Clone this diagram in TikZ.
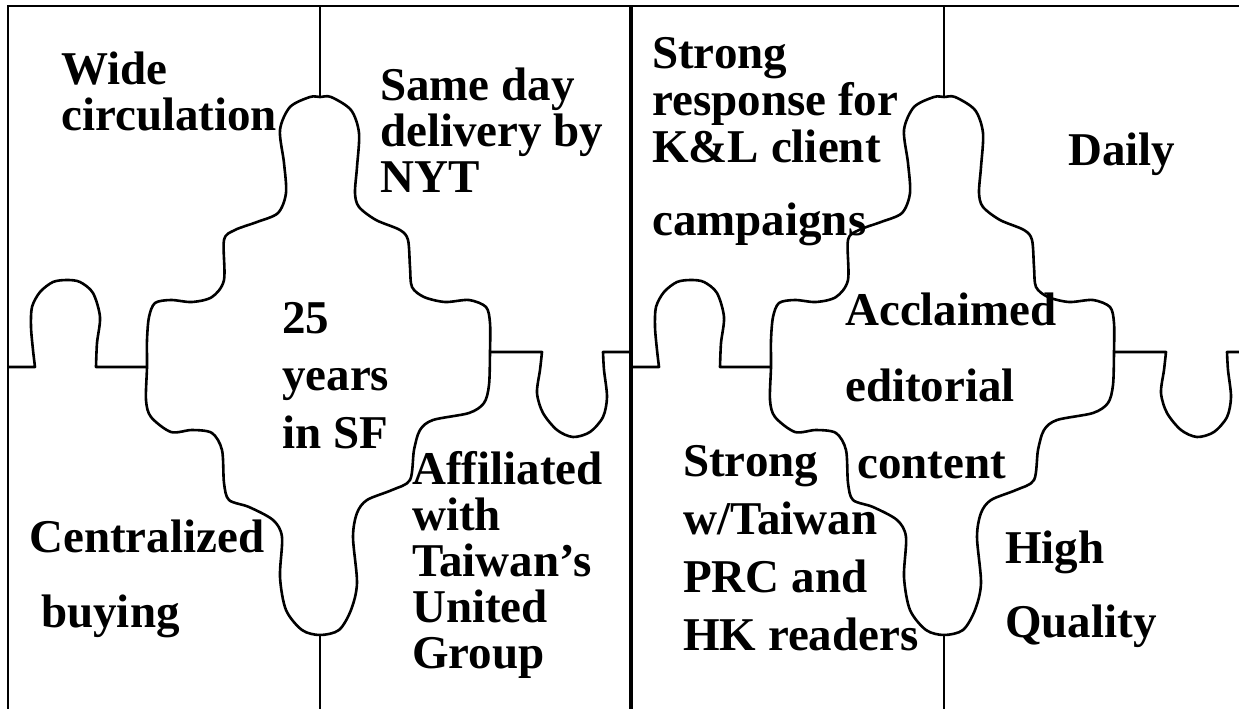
\documentclass[tikz,border=0pt]{standalone}
\usepackage{fontspec}
\setmainfont{Liberation Serif}
\usetikzlibrary{positioning}
\tikzset{
panelline/.style={line width=2pt},
cutline/.style={line width=2.6pt, line join=round},
word/.style={anchor=base west, inner sep=0pt, align=left,
  font=\bfseries\fontsize{47pt}{#1pt}\selectfont}
}

\begin{document}
\begin{tikzpicture}[x=1pt,y=-1pt]
\useasboundingbox (0,0) rectangle (1239,709);
\clip (0,0) rectangle (1239,709);

\foreach \dx in {0,624}{
\begin{scope}[xshift=\dx]
% frame of one puzzle
\draw[panelline] (8,720) -- (8,6) -- (629.5,6) -- (629.5,720);
\coordinate (topjoin) at (320,97);
\coordinate (botjoin) at (320,635);
\coordinate (leftjoin) at (147,367);
\coordinate (rightjoin) at (490,352);

% centre piece
\draw[cutline] plot[smooth cycle] coordinates {
  (320,97) (331,97) (351,110) (359,133) (357,167) (355,193) (359,207)
  (376,220) (400,230) (408,240) (410,267) (412,287) (424,297) (445,302)
  (469,300) (486,307) (490,323) (490,352) (489,385) (484,403) (469,413)
  (433,420) (420,430) (414,450) (410,480) (392,490) (367,500) (357,513)
  (353,537) (357,583) (351,610) (339,630) (320,635) (302,630) (286,610)
  (280,577) (282,537) (273,520) (249,507) (229,500) (224,483) (222,450)
  (212,433) (192,430) (171,432) (151,417) (146,400) (147,367) (147,340)
  (149,317) (155,303) (171,300) (192,302) (212,297) (224,280) (224,240)
  (235,230) (257,222) (278,213) (286,193) (284,163) (280,130) (290,107)
  (310,97)};

\draw[panelline] (320,6) -- (topjoin);
\draw[panelline] (botjoin) -- (320,720);

% left knob
\draw[cutline] (8,367) -- plot[smooth] coordinates {
  (35,367) (33,350) (31,327) (32,307) (40,292) (53,282) (67,280)
  (80,282) (93,293) (100,317) (97,343) (96,367)} -- (leftjoin);
% right knob
\draw[cutline] (rightjoin) -- plot[smooth] coordinates {
  (542,352) (540,370) (537,393) (543,413) (557,430) (573,437) (590,432)
  (603,417) (607,397) (604,370) (603,352)} -- (629.5,352);
\end{scope}
}

% left puzzle (nodes sit on their last baseline)
\node[word=46] (wide) at (61,130) {Wide\\circulation};
\node[word=46] (sameday) at (380,192) {Same day\\delivery by\\NYT};
\node[word=57.5] (years) at (282,448) {25\\years\\in SF};
\node[word=75] (central) at (29,627) {Centralized\\\hspace*{12pt}buying};
\node[word=46] (affil) at (412,668) {Affiliated\\with\\Taiwan’s\\United\\Group};

% right puzzle
\node[word=47] (response) at (652,235) {Strong\\response for\\K\&L client\\[26pt]campaigns};
\node[word=46] (daily) at (1068,165) {Daily};
\node[word=76.5] (acclaim) at (845,478) {Acclaimed\\editorial\\\hspace*{12pt}content};
\node[word=57.7] (readers) at (683,650) {Strong\\w/Taiwan\\PRC and\\HK readers};
\node[word=74] (quality) at (1005,637) {High\\Quality};
\end{tikzpicture}
\end{document}
